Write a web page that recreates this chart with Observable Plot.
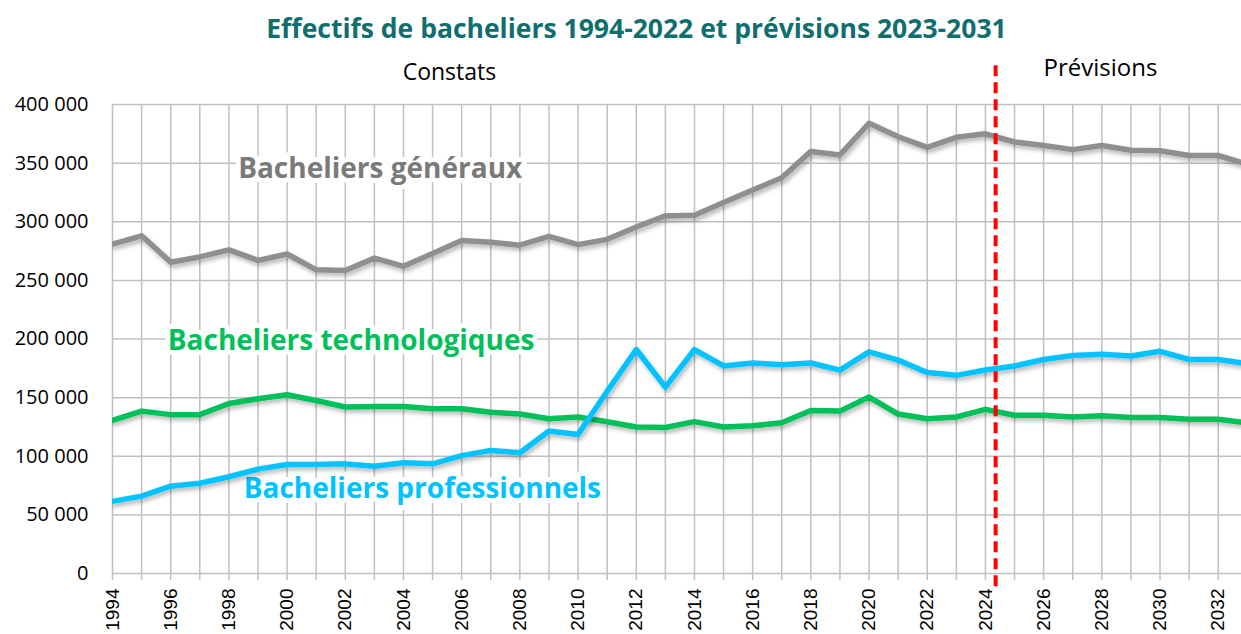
<!DOCTYPE html>
<html><head><meta charset="utf-8">
<script src="https://cdn.jsdelivr.net/npm/d3@7"></script>
<script src="https://cdn.jsdelivr.net/npm/@observablehq/plot@0.6"></script>
<style>
body{margin:0;background:#fff;width:1241px;height:634px;overflow:hidden;position:relative}
#title{position:absolute;top:12px;left:16px;width:1241px;text-align:center;font-family:"Open Sans";font-weight:bold;font-size:26.5px;line-height:32px;color:#0f6e6e}
#chart{position:absolute;top:0;left:0}
</style></head><body>
<div id="chart"></div>
<div id="title">Effectifs de bacheliers 1994-2022 et prévisions 2023-2031</div>
<script>
const years = [1994,1995,1996,1997,1998,1999,2000,2001,2002,2003,2004,2005,2006,2007,2008,2009,2010,2011,2012,2013,
  2014,2015,2016,2017,2018,2019,2020,2021,2022,2023,2024,2025,2026,2027,2028,2029,2030,2031,2032,2033];
const generaux = [281000,288000,265500,270000,276000,267000,272500,259000,258500,269000,262000,273000,284000,282500,280000,287500,280500,285000,295500,305000,
  305500,316500,327000,337500,360000,357000,384000,372500,363500,372000,375000,368000,365000,361500,365000,361000,360500,356500,356500,349000];
const technologiques = [130500,138500,135500,135500,145000,149000,152500,147500,142000,142500,142500,140500,140500,137500,136000,132000,133500,129500,125000,124500,
  129500,125000,126000,128500,139000,138500,150500,136000,132000,133500,140000,135000,135000,133500,134500,133000,133000,131500,131500,128500];
const professionnels = [61500,66000,74500,77000,82500,89000,93000,93000,93500,91500,94500,93500,100500,105000,103000,121500,118500,155500,191000,159000,
  191000,177000,179500,178000,179500,173500,189000,182000,171500,169000,173500,177000,182500,186000,187000,185500,189500,182500,182500,179000];
const xTickYears = [1994,1996,1998,2000,2002,2004,2006,2008,2010,2012,2014,2016,2018,2020,2022,2024,2026,2028,2030,2032];
const gridYears = [1994,1995,1996,1997,1998,1999,2000,2001,2002,2003,2004,2005,2006,2007,2008,2009,2010,2011,2012,2013,
  2014,2015,2016,2017,2018,2019,2020,2021,2022,2023,2024,2025,2026,2027,2028,2029,2030,2031,2032];
const yTicks = [0,50000,100000,150000,200000,250000,300000,350000,400000];
const seriesNames = ["Bacheliers généraux","Bacheliers technologiques","Bacheliers professionnels"];
const periodLabels = ["Constats","Prévisions"];

const rows = (vals) => years.map((y,i) => ({year:y, value:vals[i]}));
const gen = rows(generaux), tec = rows(technologiques), pro = rows(professionnels);
const fmt = d => d3.format(",")(d).replace(/,/g, " ");
const gridC = "#c0c0c0";

const plot = Plot.plot({
  width: 1241, height: 634,
  marginTop: 104, marginBottom: 61, marginLeft: 112, marginRight: 0,
  style: {fontFamily: "Open Sans", background: "transparent", color: "#000"},
  x: {domain: [1994, 2032.8], axis: null, label: null},
  y: {domain: [0, 400000], axis: null, label: null},
  marks: [
    Plot.ruleX(gridYears, {stroke: gridC, strokeWidth: 1.5}),
    Plot.ruleY(yTicks, {stroke: gridC, strokeWidth: 1.5}),
    Plot.axisX(gridYears, {tickSize: 7, tickFormat: () => "", stroke: gridC, strokeWidth: 1.5, label: null}),
    Plot.axisX(xTickYears, {tickSize: 0, tickPadding: 15, tickRotate: -90, tickFormat: d => String(d),
      fontSize: 19, fontFamily: "Liberation Sans", fill: "#000", label: null}),
    Plot.axisY(yTicks, {tickSize: 0, tickPadding: 24, tickFormat: fmt, fontSize: 20, fontFamily: "Open Sans", fill: "#000", label: null}),
    Plot.text([seriesNames[0]], {x: () => 2003.2, y: () => 345000, text: d => d, fontSize: 28, fontWeight: "bold",
      fontFamily: "Open Sans", fill: "#7a7a7a", stroke: "white", strokeWidth: 10}),
    Plot.text([seriesNames[1]], {x: () => 2002.2, y: () => 198000, text: d => d, fontSize: 28, fontWeight: "bold",
      fontFamily: "Open Sans", fill: "#00c05a", stroke: "white", strokeWidth: 10}),
    Plot.text([seriesNames[2]], {x: () => 2004.65, y: () => 72000, text: d => d, fontSize: 28, fontWeight: "bold",
      fontFamily: "Open Sans", fill: "#00c3ff", stroke: "white", strokeWidth: 10}),
    Plot.text([periodLabels[0]], {x: () => 2005.58, y: () => 427000, text: d => d, fontSize: 23, fill: "#000", fontFamily: "Open Sans"}),
    Plot.text([periodLabels[1]], {x: () => 2027.95, y: () => 431000, text: d => d, fontSize: 24, fill: "#000", fontFamily: "Open Sans"}),
    Plot.line(gen, {x: "year", y: "value", stroke: "#8f8f8f", strokeWidth: 5.5, clip: true}),
    Plot.line(tec, {x: "year", y: "value", stroke: "#00c05a", strokeWidth: 5.5, clip: true}),
    Plot.line(pro, {x: "year", y: "value", stroke: "#00c3ff", strokeWidth: 5.5, clip: true}),
    Plot.ruleX([2024.35], {y1: () => 433000, y2: () => -15000, stroke: "#ff0000", strokeWidth: 4, strokeDasharray: "11,6"})
  ]
});

const svg = d3.select(plot);
const defs = svg.insert("defs", ":first-child");
const f = defs.append("filter").attr("id", "shadow").attr("x", "-5%").attr("y", "-20%").attr("width", "110%").attr("height", "140%");
f.append("feDropShadow").attr("dx", 2).attr("dy", 3).attr("stdDeviation", 2).attr("flood-color", "#000").attr("flood-opacity", 0.28);
svg.selectAll("g[aria-label='line']").attr("filter", "url(#shadow)");
document.getElementById("chart").appendChild(plot);
</script>
</body></html>
